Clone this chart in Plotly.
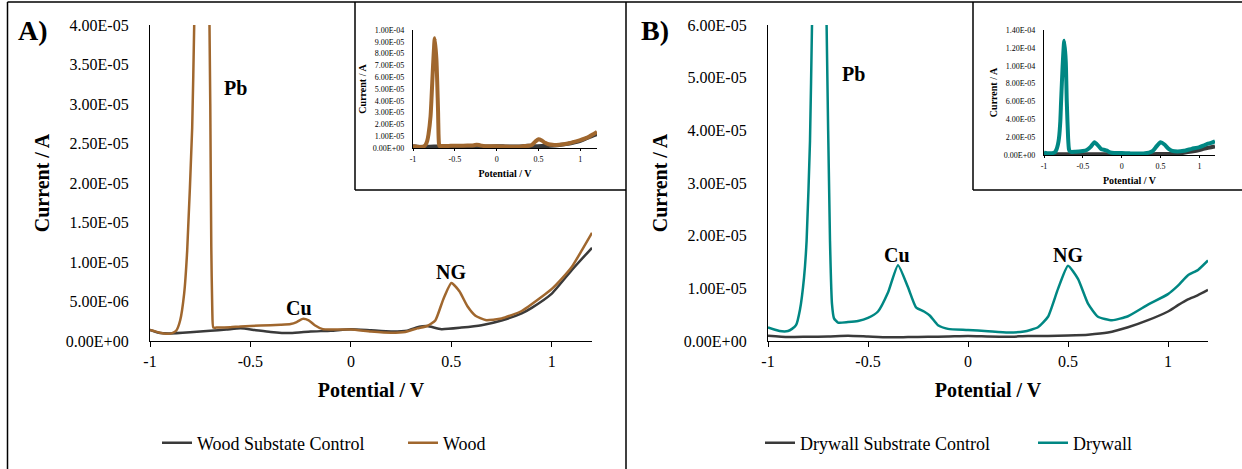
import plotly.graph_objects as go

# ---------------- data (current in microamps, converted to A below) ----------------
wood_x = [-1.0, -0.95, -0.92, -0.89, -0.87, -0.85, -0.83, -0.815, -0.79, -0.78, -0.76, -0.74,
          -0.72, -0.71, -0.70, -0.695, -0.69, -0.685, -0.67, -0.6, -0.55, -0.45, -0.35, -0.3,
          -0.27, -0.24, -0.21, -0.18, -0.14, -0.1, 0.0, 0.1, 0.2, 0.27, 0.33, 0.38, 0.42, 0.46,
          0.5, 0.54, 0.58, 0.62, 0.67, 0.75, 0.85, 0.95, 1.0, 1.05, 1.1, 1.15, 1.2]
wood_ua = [1.4, 1.05, 0.93, 1.0, 1.3, 2.6, 6.0, 11.4, 27.0, 40.0, 70.0, 93.0,
           75.0, 55.0, 30.0, 12.0, 4.0, 1.7, 1.7, 1.75, 1.85, 1.95, 2.05, 2.15,
           2.4, 2.8, 2.6, 2.0, 1.5, 1.45, 1.45, 1.2, 1.05, 1.15, 1.6, 1.9, 2.6, 5.3,
           7.35, 6.3, 4.4, 3.2, 2.65, 2.85, 3.8, 5.6, 6.6, 7.9, 9.4, 11.5, 13.7]

wood_ctrl_x = [-1.0, -0.95, -0.9, -0.8, -0.7, -0.62, -0.55, -0.48, -0.4, -0.3, -0.2, -0.1,
               0.0, 0.1, 0.2, 0.28, 0.34, 0.38, 0.45, 0.55, 0.65, 0.75, 0.85, 0.9, 1.0, 1.1, 1.2]
wood_ctrl_ua = [1.4, 1.0, 0.95, 1.1, 1.3, 1.45, 1.6, 1.4, 1.15, 1.0, 1.2, 1.3,
                1.5, 1.35, 1.2, 1.3, 1.8, 1.9, 1.5, 1.7, 2.0, 2.6, 3.5, 4.2, 6.0, 9.0, 11.8]

dry_x = [-1.0, -0.96, -0.93, -0.9, -0.88, -0.86, -0.84, -0.82, -0.807, -0.79, -0.78, -0.76,
         -0.74, -0.72, -0.707, -0.69, -0.68, -0.67, -0.65, -0.6, -0.55, -0.5, -0.45, -0.4,
         -0.35, -0.3, -0.26, -0.22, -0.19, -0.15, -0.1, 0.0, 0.1, 0.2, 0.28, 0.35, 0.4, 0.45,
         0.5, 0.55, 0.6, 0.65, 0.72, 0.8, 0.9, 1.0, 1.05, 1.1, 1.15, 1.2]
dry_ua = [2.6, 2.1, 1.85, 1.9, 2.3, 3.0, 6.0, 12.0, 19.0, 38.0, 60.0, 100.0,
          128.0, 105.0, 60.0, 19.0, 7.0, 4.3, 3.5, 3.6, 3.8, 4.4, 5.6, 9.2,
          14.4, 10.2, 6.4, 5.6, 4.8, 3.0, 2.3, 2.1, 1.85, 1.6, 1.8, 2.6, 4.6, 9.9,
          14.3, 11.8, 7.1, 4.6, 3.95, 4.7, 6.9, 8.9, 10.5, 12.5, 13.5, 15.3]

dry_ctrl_x = [-1.0, -0.9, -0.8, -0.7, -0.6, -0.5, -0.4, -0.3, -0.2, -0.1, 0.0, 0.1, 0.2,
              0.3, 0.4, 0.5, 0.6, 0.7, 0.8, 0.9, 1.0, 1.05, 1.1, 1.15, 1.2]
dry_ctrl_ua = [1.0, 0.75, 0.8, 0.85, 1.0, 0.85, 0.7, 0.75, 0.8, 0.85, 0.95, 0.85, 0.8,
               0.95, 0.95, 1.05, 1.2, 1.6, 2.6, 3.95, 5.6, 6.8, 7.9, 8.7, 9.7]

x_tickvals = [-1, -0.5, 0, 0.5, 1]
x_ticktext = ["-1", "-0.5", "0", "0.5", "1"]

yA_tickvals = [0, 5e-6, 1e-5, 1.5e-5, 2e-5, 2.5e-5, 3e-5, 3.5e-5, 4e-5]
yA_ticktext = ["0.00E+00", "5.00E-06", "1.00E-05", "1.50E-05", "2.00E-05",
               "2.50E-05", "3.00E-05", "3.50E-05", "4.00E-05"]
yB_tickvals = [0, 1e-5, 2e-5, 3e-5, 4e-5, 5e-5, 6e-5]
yB_ticktext = ["0.00E+00", "1.00E-05", "2.00E-05", "3.00E-05", "4.00E-05", "5.00E-05", "6.00E-05"]
yAi_tickvals = [0, 1e-5, 2e-5, 3e-5, 4e-5, 5e-5, 6e-5, 7e-5, 8e-5, 9e-5, 1e-4]
yAi_ticktext = ["0.00E+00", "1.00E-05", "2.00E-05", "3.00E-05", "4.00E-05", "5.00E-05",
                "6.00E-05", "7.00E-05", "8.00E-05", "9.00E-05", "1.00E-04"]
yBi_tickvals = [0, 2e-5, 4e-5, 6e-5, 8e-5, 1e-4, 1.2e-4, 1.4e-4]
yBi_ticktext = ["0.00E+00", "2.00E-05", "4.00E-05", "6.00E-05", "8.00E-05",
                "1.00E-04", "1.20E-04", "1.40E-04"]

# ---------------- style ----------------
W, H = 1242, 469
FONT = "Liberation Serif"
BROWN = "#A0672E"
TEAL = "#008783"
DARK = "#3A3A3A"


def px(x):
    return x / W


def py(y):
    return 1 - y / H


def amps(vals):
    return [v * 1e-6 for v in vals]


fig = go.Figure()

series = [
    # (x, y, name, color, xaxis, yaxis, width, showlegend, legend, legendwidth)
    (wood_ctrl_x, wood_ctrl_ua, "Wood Substate Control", DARK, "x", "y", 2.5, True, "legend", 201),
    (wood_x, wood_ua, "Wood", BROWN, "x", "y", 2.5, True, "legend", None),
    (wood_ctrl_x, wood_ctrl_ua, "Wood Substate Control", DARK, "x2", "y2", 4, False, "legend", None),
    (wood_x, wood_ua, "Wood", BROWN, "x2", "y2", 4, False, "legend", None),
    (dry_ctrl_x, dry_ctrl_ua, "Drywall Substrate Control", DARK, "x3", "y3", 2.5, True, "legend2", 228),
    (dry_x, dry_ua, "Drywall", TEAL, "x3", "y3", 2.5, True, "legend2", None),
    (dry_ctrl_x, dry_ctrl_ua, "Drywall Substrate Control", DARK, "x4", "y4", 4, False, "legend2", None),
    (dry_x, dry_ua, "Drywall", TEAL, "x4", "y4", 4, False, "legend2", None),
]
for xs, ys, name, color, xa, ya, w, sl, lg, lw in series:
    tr = go.Scatter(
        x=xs, y=amps(ys), name=name, mode="lines", xaxis=xa, yaxis=ya,
        line=dict(color=color, width=w, shape="spline", smoothing=0.5),
        showlegend=sl, legend=lg, hoverinfo="x+y+name")
    if lw:
        tr.legendwidth = lw
    fig.add_trace(tr)


def xax(domain, anchor, size, tsize, standoff, ticklen, tstand):
    return dict(domain=domain, anchor=anchor, range=[-1, 1.2], tickvals=x_tickvals,
                ticktext=x_ticktext, showline=True, linecolor="black", linewidth=1.3,
                showgrid=False, zeroline=False, ticks="outside", ticklen=ticklen,
                tickcolor="black", tickwidth=1, ticklabelstandoff=tstand, automargin=False,
                tickfont=dict(family=FONT, size=tsize, color="black"),
                title=dict(text="<b>Potential / V</b>", standoff=standoff,
                           font=dict(family=FONT, size=size, color="black")))


def yax(domain, anchor, rng, tv, tt, size, tsize, standoff, tstand):
    return dict(domain=domain, anchor=anchor, range=rng, tickvals=tv, ticktext=tt,
                showline=True, linecolor="black", linewidth=1.3, showgrid=False,
                zeroline=False, ticks="", ticklabelstandoff=tstand, automargin=False,
                tickfont=dict(family=FONT, size=tsize, color="black"),
                title=dict(text="<b>Current / A</b>", standoff=standoff,
                           font=dict(family=FONT, size=size, color="black")))


fig.update_layout(
    width=W, height=H, margin=dict(l=0, r=0, t=0, b=0, pad=0, autoexpand=False),
    autosize=False,
    paper_bgcolor="white", plot_bgcolor="rgba(0,0,0,0)",
    font=dict(family=FONT, color="black"),
    xaxis=xax([px(150), px(592)], "y", 20, 16, 13, 5, 1),
    yaxis=yax([py(341), py(25)], "x", [0, 4e-5], yA_tickvals, yA_ticktext, 20, 16, 10, 17),
    xaxis2=xax([px(413), px(597)], "y2", 10, 8, 7, 2, 1),
    yaxis2=yax([py(148), py(30)], "x2", [0, 1e-4], yAi_tickvals, yAi_ticktext, 10, 8, 4, 6),
    xaxis3=xax([px(768), px(1208)], "y3", 20, 16, 13, 5, 1),
    yaxis3=yax([py(341), py(25)], "x3", [0, 6e-5], yB_tickvals, yB_ticktext, 20, 16, 10, 17),
    xaxis4=xax([px(1044), px(1215)], "y4", 10, 8, 7, 2, 1),
    yaxis4=yax([py(155), py(30)], "x4", [0, 1.4e-4], yBi_tickvals, yBi_ticktext, 10, 8, 4, 6),
    legend=dict(orientation="h", x=px(157), xanchor="left", y=py(443), yanchor="middle",
                borderwidth=0,
                font=dict(family=FONT, size=18, color="black"), bgcolor="rgba(0,0,0,0)"),
    legend2=dict(orientation="h", x=px(760), xanchor="left", y=py(443), yanchor="middle",
                 borderwidth=0,
                 font=dict(family=FONT, size=18, color="black"), bgcolor="rgba(0,0,0,0)"),
)

# peak labels (data coordinates)
labels = [
    ("Pb", "x", "y", -0.575, 32e-6),
    ("Cu", "x", "y", -0.26, 4.2e-6),
    ("NG", "x", "y", 0.5, 8.7e-6),
    ("Pb", "x3", "y3", -0.575, 50.7e-6),
    ("Cu", "x3", "y3", -0.355, 16.3e-6),
    ("NG", "x3", "y3", 0.5, 16.3e-6),
]
for t, xr, yr, xv, yv in labels:
    fig.add_annotation(text=f"<b>{t}</b>", x=xv, y=yv, xref=xr, yref=yr, showarrow=False,
                       xanchor="center", yanchor="middle",
                       font=dict(family=FONT, size=20, color="black"))

# panel letters
for t, xp in [("A)", 33), ("B)", 655)]:
    fig.add_annotation(text=f"<b>{t}</b>", x=px(xp), y=py(30), xref="paper", yref="paper",
                       showarrow=False, xanchor="center", yanchor="middle",
                       font=dict(family=FONT, size=28, color="black"))

# frames
frame = [
    (7.5, 2, 1242, 2),      # top
    (7.5, 2, 7.5, 469),     # left
    (626, 2, 626, 469),     # middle divider
    (355, 2, 355, 190),     # inset A left
    (355, 190, 626, 190),   # inset A bottom
    (973, 2, 973, 190),     # inset B left
    (973, 190, 1242, 190),  # inset B bottom
]
for x0, y0, x1, y1 in frame:
    fig.add_shape(type="line", xref="paper", yref="paper",
                  x0=px(x0), y0=py(y0), x1=px(x1), y1=py(y1),
                  line=dict(color="black", width=1.5))

fig.write_html(
    "out.html",
    config={"displayModeBar": False, "responsive": False},
    post_script="document.body.style.margin='0';"
                "document.documentElement.style.overflow='hidden';",
)
